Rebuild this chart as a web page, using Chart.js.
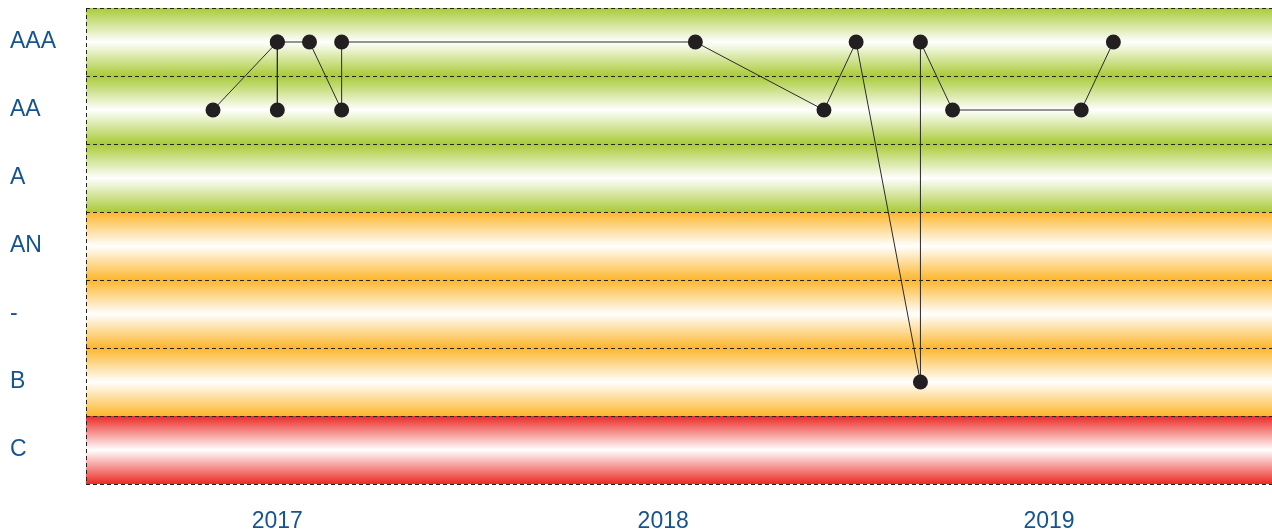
<!DOCTYPE html>
<html>
<head>
<meta charset="utf-8">
<script src="https://cdn.jsdelivr.net/npm/chart.js@4/dist/chart.umd.min.js"></script>
<style>
  html, body { margin: 0; padding: 0; background: #fff; overflow: hidden; }
  canvas { display: block; }
</style>
</head>
<body>
<canvas id="ratingChart" width="1272" height="531"></canvas>
<script>
// rating scale, bottom to top
const RATINGS = ['C', 'B', '-', 'AN', 'A', 'AA', 'AAA']
// months counted from Jan 2017
const MONTHS = [4, 6, 6, 6, 7, 8, 8, 19, 23, 24, 26, 26, 27, 31, 32]
const GRADES = ['AA', 'AAA', 'AA', 'AAA', 'AAA', 'AA', 'AAA', 'AAA', 'AA', 'AAA', 'B', 'AAA', 'AA', 'AA', 'AAA']
const YEAR_TICKS = [6, 18, 30]
const YEAR_LABELS = ['2017', '2018', '2019']

const BAND_COLORS = {
  C: '#ec2a25',
  B: '#fdb62c',
  '-': '#fdb62c',
  AN: '#fdb62c',
  A: '#a9cb37',
  AA: '#a9cb37',
  AAA: '#a9cb37',
}
const TEXT_BLUE = '#17548f'

const bandsPlugin = {
  id: 'bands',
  beforeDatasetsDraw(chart) {
    const { ctx, chartArea } = chart
    const y = chart.scales.y
    const left = chartArea.left
    const right = chart.width
    ctx.save()
    RATINGS.forEach((r, i) => {
      const top = y.getPixelForValue(i + 0.5)
      const bottom = y.getPixelForValue(i - 0.5)
      const c = BAND_COLORS[r]
      const g = ctx.createLinearGradient(0, top, 0, bottom)
      g.addColorStop(0, c)
      g.addColorStop(0.5, '#ffffff')
      g.addColorStop(1, c)
      ctx.fillStyle = g
      ctx.fillRect(left, top, right - left, bottom - top)
    })
    ctx.strokeStyle = '#222'
    ctx.lineWidth = 1
    ctx.setLineDash([4, 3])
    for (let i = 0; i <= RATINGS.length; i++) {
      const py = Math.round(y.getPixelForValue(i - 0.5)) + 0.5
      ctx.beginPath()
      ctx.moveTo(left, py)
      ctx.lineTo(right, py)
      ctx.stroke()
    }
    ctx.beginPath()
    ctx.moveTo(Math.round(left) + 0.5, chartArea.top)
    ctx.lineTo(Math.round(left) + 0.5, chartArea.bottom)
    ctx.stroke()
    ctx.restore()
  },
}

const points = MONTHS.map((m, i) => ({ x: m, y: RATINGS.indexOf(GRADES[i]) }))

function noPadding(scale) {
  scale.paddingTop = 0
  scale.paddingBottom = 0
  scale.paddingLeft = 0
  scale.paddingRight = 0
}

new Chart(document.getElementById('ratingChart'), {
  type: 'line',
  data: {
    datasets: [
      {
        data: points,
        borderColor: '#2a2a2a',
        borderWidth: 1,
        pointRadius: 7.5,
        pointBackgroundColor: '#231f20',
        pointBorderColor: '#231f20',
        pointBorderWidth: 0,
        tension: 0,
        clip: false,
      },
    ],
  },
  options: {
    responsive: false,
    animation: false,
    devicePixelRatio: 1,
    layout: { padding: { left: 10, top: 8, right: 0, bottom: 0 } },
    plugins: {
      legend: { display: false },
      tooltip: { enabled: false },
    },
    scales: {
      x: {
        type: 'linear',
        min: 0.05,
        max: 36.7,
        grid: { display: false, drawTicks: false },
        border: { display: false },
        afterBuildTicks: (scale) => {
          scale.ticks = YEAR_TICKS.map((v) => ({ value: v }))
        },
        afterFit: (scale) => {
          scale.height = 47
          noPadding(scale)
        },
        ticks: {
          autoSkip: false,
          maxRotation: 0,
          padding: 24,
          color: TEXT_BLUE,
          font: { family: 'Liberation Sans, Arial, sans-serif', size: 23 },
          callback: (v) => YEAR_LABELS[YEAR_TICKS.indexOf(v)],
        },
      },
      y: {
        type: 'linear',
        min: -0.5,
        max: 6.5,
        grid: { display: false, drawTicks: false },
        border: { display: false },
        afterBuildTicks: (scale) => {
          scale.ticks = RATINGS.map((_, i) => ({ value: i }))
        },
        afterFit: (scale) => {
          scale.width = 76
          noPadding(scale)
        },
        ticks: {
          crossAlign: 'far',
          padding: 0,
          color: TEXT_BLUE,
          font: { family: 'Liberation Sans, Arial, sans-serif', size: 23 },
          callback: (v) => RATINGS[v],
        },
      },
    },
  },
  plugins: [bandsPlugin],
})
</script>
</body>
</html>
